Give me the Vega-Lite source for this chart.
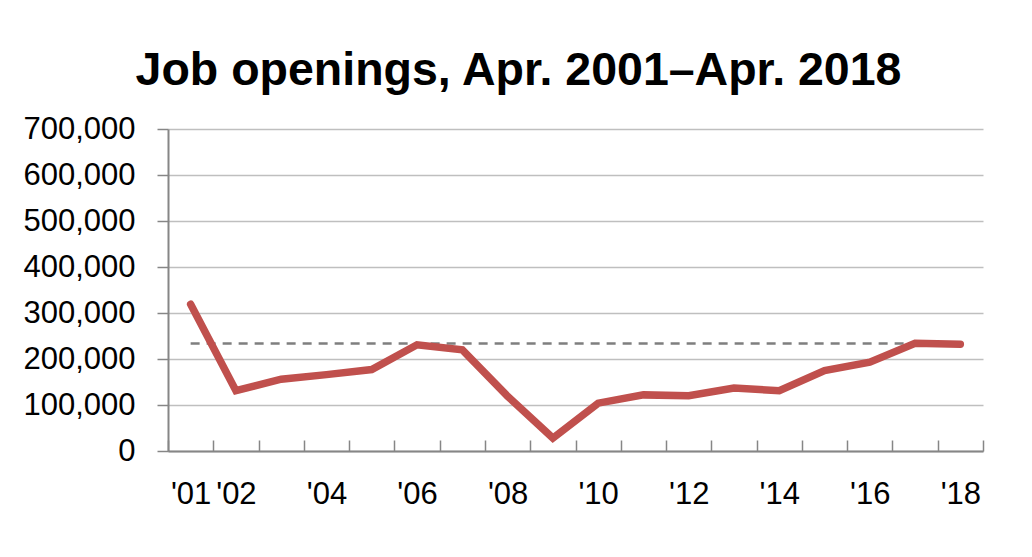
{
  "$schema": "https://vega.github.io/schema/vega-lite/v6.json",
  "autosize": "none",
  "width": 815,
  "height": 322,
  "padding": {"left": 168, "top": 129, "right": 49, "bottom": 106},
  "background": "white",
  "title": {
    "text": "Job openings, Apr. 2001–Apr. 2018",
    "font": "Liberation Sans",
    "fontSize": 46.5,
    "fontWeight": "bold",
    "color": "black",
    "anchor": "middle",
    "baseline": "alphabetic",
    "offset": 46,
    "dx": -57,
    "dy": 64
  },
  "datasets": {
    "jobs": [
      {"year": "2001", "openings": 319000},
      {"year": "2002", "openings": 131000},
      {"year": "2003", "openings": 156000},
      {"year": "2004", "openings": 166000},
      {"year": "2005", "openings": 177000},
      {"year": "2006", "openings": 231000},
      {"year": "2007", "openings": 220000},
      {"year": "2008", "openings": 119000},
      {"year": "2009", "openings": 28000},
      {"year": "2010", "openings": 104000},
      {"year": "2011", "openings": 122000},
      {"year": "2012", "openings": 120000},
      {"year": "2013", "openings": 137000},
      {"year": "2014", "openings": 131000},
      {"year": "2015", "openings": 175000},
      {"year": "2016", "openings": 193000},
      {"year": "2017", "openings": 234000},
      {"year": "2018", "openings": 232000}
    ],
    "ref": [
      {"year": "2001", "openings": 233500},
      {"year": "2018", "openings": 233500}
    ]
  },
  "encoding": {
    "x": {
      "field": "year",
      "type": "ordinal",
      "sort": null,
      "scale": {"type": "band", "paddingInner": 0, "paddingOuter": 0, "domain": ["2001","2002","2003","2004","2005","2006","2007","2008","2009","2010","2011","2012","2013","2014","2015","2016","2017","2018"]},
      "axis": {
        "title": null,
        "labelAngle": 0,
        "tickBand": "extent",
        "tickSize": -11,
        "tickColor": "#868686",
        "tickWidth": 1.5,
        "domainColor": "#868686",
        "domainWidth": 2,
        "labelFont": "Liberation Sans",
        "labelFontSize": 31,
        "labelColor": "black",
        "labelPadding": 54,
        "labelBaseline": "middle",
        "labelExpr": "datum.value == '2001' || datum.value == '2002' || (+datum.value % 2 == 0) ? \"'\" + substring(datum.value, 2, 4) : ''",
        "grid": false
      }
    },
    "y": {
      "field": "openings",
      "type": "quantitative",
      "scale": {"domain": [0, 700000], "nice": false},
      "axis": {
        "title": null,
        "values": [0, 100000, 200000, 300000, 400000, 500000, 600000, 700000],
        "format": ",d",
        "tickSize": 11,
        "tickColor": "#868686",
        "tickWidth": 1.5,
        "domainColor": "#868686",
        "domainWidth": 2,
        "labelFont": "Liberation Sans",
        "labelFontSize": 31,
        "labelColor": "black",
        "labelPadding": 22,
        "grid": true,
        "gridColor": "#BFBFBF",
        "gridWidth": 1.5
      }
    }
  },
  "layer": [
    {
      "data": {"name": "ref"},
      "mark": {"type": "line", "color": "#7F7F7F", "strokeWidth": 2.5, "strokeDash": [9, 7]}
    },
    {
      "data": {"name": "jobs"},
      "mark": {"type": "line", "color": "#C0504D", "strokeWidth": 7.5, "strokeCap": "round", "strokeJoin": "miter"}
    }
  ],
  "config": {"view": {"stroke": null}}
}
